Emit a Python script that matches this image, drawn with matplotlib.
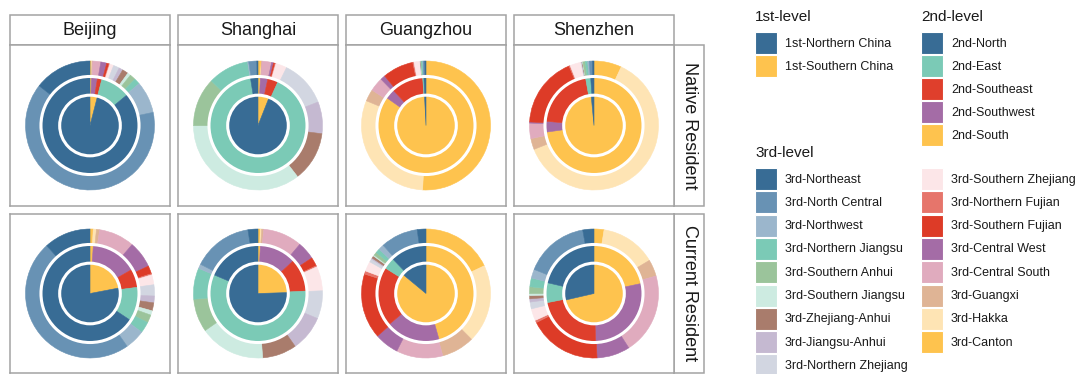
import matplotlib.pyplot as plt
from matplotlib.patches import Rectangle, Circle

plt.rcParams['font.family'] = ['Liberation Sans', 'DejaVu Sans']

W, H = 1077, 374

cities = ["Beijing", "Shanghai", "Guangzhou", "Shenzhen"]
groups = ["Native Resident", "Current Resident"]

level1 = ["1st-Northern China", "1st-Southern China"]
level2 = ["2nd-North", "2nd-East", "2nd-Southeast", "2nd-Southwest", "2nd-South"]
level3 = ["3rd-Northeast", "3rd-North Central", "3rd-Northwest",
          "3rd-Northern Jiangsu", "3rd-Southern Anhui", "3rd-Southern Jiangsu",
          "3rd-Zhejiang-Anhui", "3rd-Jiangsu-Anhui", "3rd-Northern Zhejiang",
          "3rd-Southern Zhejiang", "3rd-Northern Fujian", "3rd-Southern Fujian",
          "3rd-Central West", "3rd-Central South", "3rd-Guangxi", "3rd-Hakka",
          "3rd-Canton"]

colors1 = ["#386c95", "#fec34e"]
colors2 = ["#386c95", "#7bcab6", "#df3f2c", "#a46ca6", "#fec34e"]
colors3 = ["#386c95", "#6892b4", "#9bb6cc", "#7bcab6", "#9bc49b", "#cdebe1",
           "#a97c6c", "#c5b9d1", "#d2d6e1", "#fce6e8", "#e6756b", "#dd3b27",
           "#a46ca6", "#e0abbe", "#dfb495", "#fee4b4", "#fec34e"]

# shares in %, in legend order
bj_native_1 = [96, 4]
bj_native_2 = [86, 10, 1.5, 2, 0.5]
bj_native_3 = [14.5, 64, 8, 1.5, 1.5, 0.8, 1.5, 1.0, 1.5, 1.0, 0.2, 0.6, 1.5, 2.0, 0.2, 0.2, 0.3]

sh_native_1 = [94, 6]
sh_native_2 = [2.5, 90.5, 3.5, 2.5, 0.8]
sh_native_3 = [0.3, 2, 0.3, 10.3, 12.2, 35.5, 12.5, 8, 11.8, 2.8, 0.2, 0.4, 0.5, 2.4, 0.1, 0.1, 0.8]

gz_native_1 = [0.8, 99.2]
gz_native_2 = [0.7, 0.4, 10.8, 3.3, 84.8]
gz_native_3 = [0.3, 0.4, 0.1, 0.3, 0.1, 0.1, 0.05, 0.05, 0.1, 1.5, 0.3, 7.8, 1.2, 3.5, 3, 30.5, 51]

sz_native_1 = [1.5, 98.5]
sz_native_2 = [1.1, 1.7, 20.8, 3.6, 72.8]
sz_native_3 = [0.4, 0.8, 0.4, 0.6, 0.6, 0.1, 0.1, 0.1, 0.2, 2.8, 0.3, 18, 0.3, 3.9, 2.8, 62.8, 7]

bj_current_1 = [78, 22]
bj_current_2 = [65.6, 11.4, 6.2, 15.6, 1.1]
bj_current_3 = [11.7, 48, 5, 2.8, 2, 1.1, 2, 1.7, 2.8, 2.5, 0.3, 2, 6.7, 8.9, 0.8, 0.8, 0.8]

sh_current_1 = [75.5, 24.5]
sh_current_2 = [18.6, 57.2, 11.1, 12.3, 0.8]
sh_current_3 = [2.5, 15, 1.1, 7.8, 8.3, 16.4, 8.6, 8.9, 7, 6.1, 0.3, 2.2, 4.5, 9.8, 0.5, 0.3, 0.6]

gz_current_1 = [14, 86]
gz_current_2 = [12.2, 3.9, 20, 18.3, 45.6]
gz_current_3 = [2.2, 9.4, 1.4, 1.1, 0.8, 0.3, 0.6, 0.3, 0.8, 2.5, 0.8, 16.4, 6.1, 11.7, 8.3, 19.7, 18]

sz_current_1 = [28.6, 71.4]
sz_current_2 = [21.4, 6.7, 22.5, 27.8, 21.7]
sz_current_3 = [2.8, 16.1, 2.2, 2.2, 1.7, 0.5, 0.8, 0.8, 1.7, 3, 0.6, 18.3, 8.3, 20.3, 4.2, 13.9, 2.5]

panels = {
    ("Native Resident", "Beijing"): (bj_native_1, bj_native_2, bj_native_3),
    ("Native Resident", "Shanghai"): (sh_native_1, sh_native_2, sh_native_3),
    ("Native Resident", "Guangzhou"): (gz_native_1, gz_native_2, gz_native_3),
    ("Native Resident", "Shenzhen"): (sz_native_1, sz_native_2, sz_native_3),
    ("Current Resident", "Beijing"): (bj_current_1, bj_current_2, bj_current_3),
    ("Current Resident", "Shanghai"): (sh_current_1, sh_current_2, sh_current_3),
    ("Current Resident", "Guangzhou"): (gz_current_1, gz_current_2, gz_current_3),
    ("Current Resident", "Shenzhen"): (sz_current_1, sz_current_2, sz_current_3),
}

border = "#a3a3a3"
fig = plt.figure(figsize=(W / 100, H / 100), dpi=100)


def px_axes(x0, y0, x1, y1):
    return fig.add_axes([x0 / W, 1 - y1 / H, (x1 - x0) / W, (y1 - y0) / H])


col_x = [10, 178, 346, 514]
row_y = [(45, 206), (214, 373)]
R_PX = 64.5
R_IN, R_MID = 0.47, 0.76

for i, grp in enumerate(groups):
    y0, y1 = row_y[i]
    for j, city in enumerate(cities):
        x0 = col_x[j]
        ax = px_axes(x0, y0, x0 + 160, y1)
        v1, v2, v3 = panels[(grp, city)]
        rings = [(v3, colors3, 1.0, 1.0 - R_MID),
                 (v2, colors2, R_MID, R_MID - R_IN),
                 (v1, colors1, R_IN, R_IN)]
        for vals, cols, r, w in rings:
            wedges, _ = ax.pie(vals[::-1], colors=cols[::-1], radius=r,
                               startangle=90, counterclock=False, frame=True,
                               wedgeprops=dict(width=w, linewidth=0.4))
            for wd in wedges:
                wd.set_edgecolor(wd.get_facecolor())
        for r in (R_IN, R_MID):
            ax.add_patch(Circle((0, 0), r, fill=False, ec="white", lw=2.2))
        ax.set_aspect("auto")
        ax.set_xlim(-80 / R_PX, 80 / R_PX)
        ax.set_ylim(-(y1 - y0) / 2 / R_PX, (y1 - y0) / 2 / R_PX)
        ax.set_xticks([])
        ax.set_yticks([])
        for s in ax.spines.values():
            s.set_color(border)
            s.set_linewidth(1.1)

# overlay for strips and legend, in pixel coordinates
cv = fig.add_axes([0, 0, 1, 1], zorder=-1)
cv.set_xlim(0, W)
cv.set_ylim(H, 0)
cv.axis("off")

for j, city in enumerate(cities):
    x0 = col_x[j]
    cv.add_patch(Rectangle((x0, 15), 160, 30, fc="white", ec=border, lw=1.1))
    cv.text(x0 + 80, 30.5, city, ha="center", va="center", fontsize=13, color="#1a1a1a")
for i, grp in enumerate(groups):
    y0, y1 = row_y[i]
    cv.add_patch(Rectangle((674, y0), 30, y1 - y0, fc="white", ec=border, lw=1.1))
    cv.text(689.5, (y0 + y1) / 2, grp, ha="center", va="center", rotation=-90,
            fontsize=13, color="#1a1a1a")


def legend_block(title, labels, cols, x, y_title, y_first, step=23.3):
    cv.text(x, y_title, title, ha="left", va="center", fontsize=11, color="#1a1a1a")
    for k, (lab, c) in enumerate(zip(labels, cols)):
        yt = y_first + k * step
        cv.add_patch(Rectangle((x, yt), 22, 22, fc=c, ec="white", lw=0.8))
        cv.text(x + 30, yt + 11.5, lab, ha="left", va="center", fontsize=9, color="#1a1a1a")


legend_block("1st-level", level1, colors1, 755, 17, 32, step=23)
legend_block("2nd-level", level2, colors2, 921, 17, 32, step=23)
legend_block("3rd-level", level3[:9], colors3[:9], 755, 153, 168)
legend_block("", level3[9:], colors3[9:], 921, 153, 168)

fig.savefig("out.png", dpi=100)
